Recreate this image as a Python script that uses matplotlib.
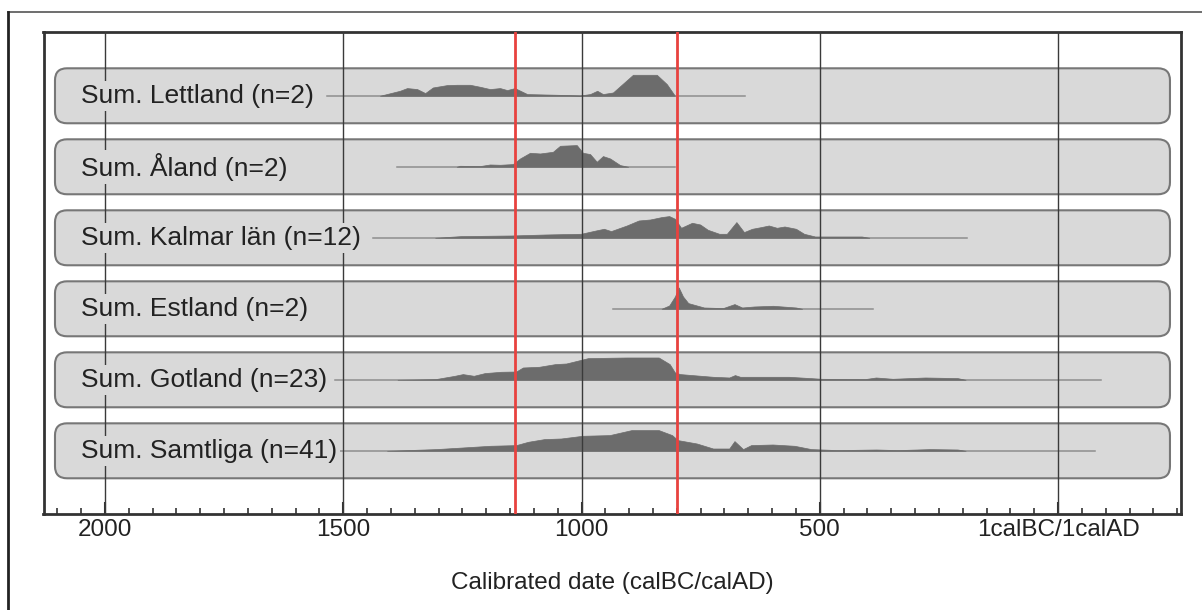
import numpy as np
import matplotlib
matplotlib.use("Agg")
import matplotlib.pyplot as plt
from matplotlib.patches import FancyBboxPatch
from matplotlib.lines import Line2D

plt.rcParams['font.family'] = ['Liberation Sans', 'DejaVu Sans']

# years are calBC (negative = AD), heights are relative summed probability
labels = ['Sum. Lettland (n=2)', 'Sum. Åland (n=2)', 'Sum. Kalmar län (n=12)',
          'Sum. Estland (n=2)', 'Sum. Gotland (n=23)', 'Sum. Samtliga (n=41)']

# full extent of each summed range (thin base line)
range_start = [1534, 1388, 1438, 933, 1517, 1507]
range_end = [657, 804, 191, 388, -91, -78]

lettland_yr = [1423, 1381, 1366, 1345, 1328, 1312, 1282, 1261, 1234, 1213, 1192, 1171,
               1156, 1140, 1114, 1051, 1003, 982, 967, 955, 934, 892, 842, 821, 804]
lettland_p = [0, 5, 7.7, 6.7, 2.7, 8.3, 10.7, 11, 11, 9, 6.7, 7.7,
              5.7, 7.7, 1.7, 1, 0.3, 1.7, 5, 1.7, 3.3, 21, 21, 11.7, 0]

aland_yr = [1262, 1255, 1213, 1192, 1171, 1144, 1129, 1108, 1087, 1060, 1045, 1010,
            997, 982, 968, 955, 940, 919, 902]
aland_p = [0, 1, 0.7, 2.3, 2, 2.7, 8.3, 14, 13.3, 15, 21, 21.7,
           14, 12.7, 5, 10.7, 8.3, 1.7, 0]

kalmar_yr = [1307, 1252, 1147, 1075, 1001, 970, 953, 938, 905, 880, 856, 832, 816, 804,
             791, 768, 751, 735, 711, 695, 675, 659, 642, 623, 607, 590, 574, 550, 533,
             510, 412, 396]
kalmar_p = [0, 1.7, 2.3, 3.3, 4, 7.3, 9, 6.7, 12.3, 17.3, 18.3, 20.7, 21.7, 19,
            10, 15, 13.3, 8, 4, 4, 15.7, 5.7, 9, 10.7, 12.3, 10, 11.3, 9, 4,
            1.3, 1.3, 0]

estland_yr = [832, 816, 804, 796, 787, 776, 743, 703, 679, 663, 638, 598, 550, 537]
estland_p = [0, 3.3, 12.3, 21.3, 12.3, 5.7, 1.3, 0.7, 4.7, 1.3, 2.3, 3, 1.3, 0]

gotland_yr = [1386, 1306, 1266, 1249, 1226, 1203, 1169, 1137, 1123, 1089, 1055, 1032,
              1003, 986, 906, 838, 815, 804, 793, 724, 690, 678, 667, 565, 496, 405,
              382, 347, 279, 211, 194]
gotland_p = [0, 0.7, 4, 5.7, 4, 6.7, 8, 8.3, 12.3, 13, 15.7, 16.3,
             19.7, 21.7, 22.3, 22.3, 15.7, 7.3, 5.7, 3, 2.3, 4.7, 3, 3, 1, 0.7,
             2.3, 1, 2.3, 1.7, 0]

samtliga_yr = [1408, 1305, 1260, 1226, 1192, 1137, 1112, 1078, 1043, 998, 941, 895,
               838, 810, 798, 758, 724, 690, 679, 661, 644, 599, 553, 518, 462, 382,
               336, 268, 211, 194]
samtliga_p = [0, 1.7, 3, 4, 5, 5.7, 9, 11.7, 12.3, 15, 15.7, 20.7,
              20.7, 15.7, 10.7, 7.3, 2.3, 2.3, 9.7, 1.7, 5.7, 6.3, 5, 1.7, 0.7, 1.3,
              0.7, 1.7, 1.3, 0]

dist_years = [lettland_yr, aland_yr, kalmar_yr, estland_yr, gotland_yr, samtliga_yr]
dist_probs = [lettland_p, aland_p, kalmar_p, estland_p, gotland_p, samtliga_p]

boundaries = [1140, 800]

major_ticks = [2000, 1500, 1000, 500, 0]
major_labels = ['2000', '1500', '1000', '500', '1calBC/1calAD']
minor_ticks = np.arange(2100, -251, -50)

fig = plt.figure(figsize=(12.02, 6.10), dpi=100)
ax = fig.add_axes([43.5 / 1202, 1 - 513.5 / 610, 1137.5 / 1202, 481.2 / 610])

ax.set_xlim(2129, -258)
ax.set_ylim(5.883, -0.894)

box_color = '#d9d9d9'
r = 12 / 1137.5
for i, lab in enumerate(labels):
    box = FancyBboxPatch((0.0101, i - 0.387), 0.9802, 0.774,
                         boxstyle="round,pad=0,rounding_size=%f" % r,
                         mutation_aspect=1137.5 / 71,
                         transform=ax.get_yaxis_transform(),
                         fc=box_color, ec='#777777', lw=1.5, zorder=1)
    ax.add_patch(box)

    ax.plot([range_start[i], range_end[i]], [i, i], color='#8e8e8e', lw=1.1, zorder=2)
    yrs = np.array(dist_years[i])
    p = np.array(dist_probs[i]) / 71
    ax.fill_between(yrs, i, i - p, color='#6c6c6c', lw=0.5, ec='#6c6c6c', zorder=2)

    ax.text(0.033, i, lab, transform=ax.get_yaxis_transform(), fontsize=19,
            color='#222222', va='center', ha='left', zorder=6,
            bbox=dict(boxstyle='square,pad=0.12', fc=box_color, ec='none'))

for t in major_ticks:
    ax.axvline(t, color='#3a3a3a', lw=1.0, zorder=3)
for b in boundaries:
    ax.axvline(b, color='#e8423f', lw=2.0, zorder=4)

ax.set_xticks(major_ticks)
ax.set_xticklabels(major_labels)
ax.set_xticks(minor_ticks, minor=True)
ax.set_yticks([])
ax.tick_params(axis='x', which='major', direction='in', length=9, width=1.5,
               colors='#333333', labelcolor='#222222', labelsize=17.5, pad=4)
ax.tick_params(axis='x', which='minor', direction='in', length=4.5, width=1.2,
               colors='#333333')
for s in ax.spines.values():
    s.set_linewidth(2)
    s.set_color('#333333')
ax.set_xlabel('Calibrated date (calBC/calAD)', fontsize=17.5, color='#222222', labelpad=22)

# outer frame (partly cut off at the right and bottom)
fig.add_artist(Line2D([8 / 1202, 1], [1 - 12 / 610, 1 - 12 / 610], color='#555555', lw=1.2))
fig.add_artist(Line2D([8 / 1202, 8 / 1202], [0, 1 - 12 / 610], color='#222222', lw=2))

fig.savefig('out.png', dpi=100)
